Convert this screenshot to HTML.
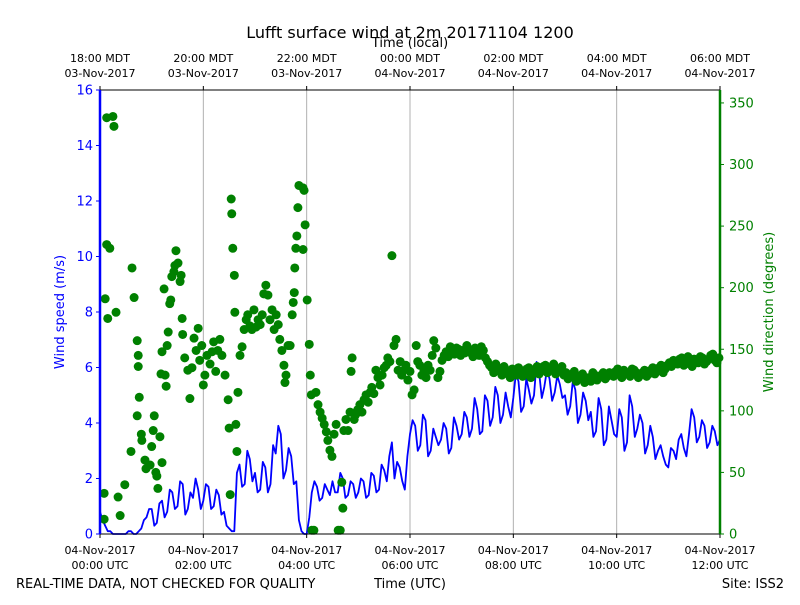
<!DOCTYPE html>
<html><head><meta charset="utf-8"><style>
body{margin:0;background:#fff;font-family:"Liberation Sans",sans-serif}
svg text{font-family:"DejaVu Sans","Liberation Sans",sans-serif}
</style></head><body>
<svg id="chart" width="800" height="600" xmlns="http://www.w3.org/2000/svg">
<text x="410" y="38" text-anchor="middle" font-size="16">Lufft surface wind at 2m 20171104 1200</text>
<text x="410" y="47" text-anchor="middle" font-size="13">Time (local)</text>
<text x="16" y="588" font-size="13">REAL-TIME DATA, NOT CHECKED FOR QUALITY</text>
<text x="410" y="588" text-anchor="middle" font-size="13">Time (UTC)</text>
<text x="784" y="588" text-anchor="end" font-size="13">Site: ISS2</text>
<text transform="translate(64,312) rotate(-90)" text-anchor="middle" font-size="13" fill="#0000ff">Wind speed (m/s)</text>
<text transform="translate(773,312) rotate(-90)" text-anchor="middle" font-size="13" fill="#008000">Wind direction (degrees)</text>
<g id="grid"></g><g id="marks"></g><g id="axes"></g>
</svg>
<script>
const speedStartHour = 0, speedStepHour = 0.05;
const speedValues = [0.8,0.5,0.3,0.1,0.1,0,0,0,0,0,0,0.1,0.1,0,0,0.1,0.2,0.5,0.6,0.9,
0.9,0.3,0.4,1.1,1.2,0.6,0.8,1.6,1.5,0.9,1.0,1.9,1.8,0.7,0.9,1.5,1.3,2.0,1.6,0.9,
1.2,1.8,1.7,0.9,1.0,1.6,1.4,0.7,0.8,0.3,0.2,0.1,0.1,2.2,2.5,1.7,1.8,3.0,2.7,1.9,
2.2,1.5,1.6,2.6,2.4,1.5,1.8,3.2,2.9,3.9,3.6,2.0,2.3,3.1,2.8,1.8,1.9,0.5,0.1,0,
0.0,0.6,1.5,1.9,1.7,1.2,1.3,1.8,1.6,1.4,1.9,1.5,1.5,2.2,2.0,1.3,1.4,1.9,1.8,1.3,
1.5,2.0,1.9,1.3,1.4,2.2,2.1,1.5,1.6,2.5,2.3,1.9,2.8,3.3,2.0,2.6,2.4,1.9,1.6,2.8,
3.6,4.1,3.9,3.0,3.2,4.3,4.1,2.8,3.0,3.8,3.5,3.2,3.4,4.0,3.8,2.9,3.1,4.2,3.9,3.4,
3.6,4.4,4.2,3.5,3.8,4.9,4.5,3.6,3.7,5.0,4.8,3.9,4.2,5.3,5.0,4.0,4.3,5.1,4.6,4.2,
4.9,5.8,5.5,4.4,4.6,5.6,5.2,4.7,5.0,6.2,5.8,4.9,5.3,5.9,5.6,4.8,5.1,5.7,5.4,4.9,
5.0,4.3,4.6,5.5,5.2,4.0,4.3,5.1,4.8,4.1,4.4,3.5,3.7,4.9,4.5,3.2,3.4,4.6,4.1,3.6,
3.5,4.5,4.2,3.0,3.3,5.0,4.6,3.5,3.8,4.3,4.0,2.9,3.2,3.9,3.5,2.7,3.0,3.2,2.8,2.5,
2.4,3.1,3.0,2.7,3.4,3.6,3.1,2.8,3.6,4.5,4.2,3.3,3.5,4.1,3.9,3.1,3.3,3.9,3.7,3.2,
3.4];
const dirHours = [0.1,0.13,0.19,0.15,0.13,0.25,0.27,0.31,0.08,0.08,0.35,0.39,0.48,0.6,0.62,0.66,0.72,0.74,0.74,0.72,0.76,0.81,0.8,0.87,0.97,1.0,1.03,1.05,0.89,1.08,1.2,1.1,1.12,1.16,1.18,1.2,1.24,1.26,1.28,1.3,1.32,1.35,1.37,1.39,1.43,1.45,1.47,1.51,1.55,1.57,1.59,1.6,1.64,1.7,1.74,1.78,1.82,1.86,1.9,1.93,1.97,2.0,2.03,2.07,2.13,2.17,2.2,2.24,2.28,2.32,2.36,2.42,2.48,2.5,2.52,2.54,2.55,2.57,2.6,2.61,2.63,2.65,2.67,2.71,2.75,2.79,2.83,2.86,2.9,2.94,2.98,3.02,3.06,3.1,3.14,3.17,3.21,3.25,3.29,3.33,3.37,3.41,3.45,3.48,3.52,3.56,3.58,3.6,3.64,3.68,3.72,3.74,3.76,3.77,3.79,3.81,3.83,3.85,3.93,3.95,3.97,3.93,4.01,4.05,4.07,4.09,4.1,4.14,4.18,4.22,4.26,4.3,4.34,4.38,4.41,4.45,4.49,4.53,4.57,4.61,4.65,4.68,4.7,4.72,4.76,4.8,4.84,4.86,4.88,4.92,4.95,4.99,5.03,5.07,5.11,5.15,5.19,5.23,5.26,5.3,5.34,5.38,5.42,5.46,5.5,5.54,5.57,5.61,5.65,5.69,5.73,5.77,5.81,5.84,5.88,5.92,5.96,6.0,6.04,6.08,6.12,6.15,6.19,6.23,6.27,6.31,6.35,6.39,6.43,6.46,6.5,6.54,6.58,6.62,6.66,
6.70,6.78,6.86,6.94,7.02,7.10,7.18,7.26,7.34,7.42,7.50,7.58,7.66,7.74,7.82,7.90,7.98,8.06,8.14,8.22,8.30,8.38,8.46,8.54,8.62,8.70,8.78,8.86,8.94,9.02,9.10,9.18,9.26,9.34,9.42,9.50,9.58,9.66,9.74,9.82,9.90,9.98,10.06,10.14,10.22,10.30,10.38,10.46,10.54,10.62,10.70,10.78,10.86,10.94,11.02,11.10,11.18,11.26,11.34,11.42,11.50,11.58,11.66,11.74,11.82,11.90,11.98,
6.74,6.82,6.90,6.98,7.06,7.14,7.22,7.30,7.38,7.46,7.54,7.62,7.70,7.78,7.86,7.94,8.02,8.10,8.18,8.26,8.34,8.42,8.50,8.58,8.66,8.74,8.82,8.90,8.98,9.06,9.14,9.22,9.30,9.38,9.46,9.54,9.62,9.70,9.78,9.86,9.94,10.02,10.10,10.18,10.26,10.34,10.42,10.50,10.58,10.66,10.74,10.82,10.90,10.98,11.06,11.14,11.22,11.30,11.38,11.46,11.54,11.62,11.70,11.78,11.86,11.94];
const dirValues = [191,235,232,175,338,339,331,180,12,33,30,15,40,67,216,192,157,145,136,96,111,76,81,60,56,71,84,96,53,50,58,47,37,79,130,148,199,129,120,153,164,187,190,209,213,218,230,220,205,210,175,162,143,133,110,135,159,149,167,141,153,121,129,145,138,148,156,132,149,158,145,129,109,86,32,272,260,232,210,180,89,67,115,145,152,166,174,178,169,166,182,168,174,170,178,195,202,194,174,182,166,178,170,158,149,137,123,129,153,153,178,188,196,216,232,242,265,283,281,279,251,231,190,154,129,113,3,3,115,105,99,94,89,83,76,68,63,81,89,3,3,42,21,84,93,84,99,132,143,93,97,101,105,99,109,113,107,115,119,114,133,127,121,129,135,137,143,140,226,153,158,133,140,129,133,137,125,132,113,117,153,140,137,129,133,127,137,133,145,157,151,127,132,141,145,
148,152,146,150,149,153,147,151,145,149,140,135,138,132,136,130,134,129,133,131,135,130,136,133,137,134,138,133,136,131,128,132,127,130,126,124,129,127,131,128,130,132,129,133,130,134,131,129,133,130,135,132,137,134,139,141,138,143,140,138,142,139,143,140,145,141,143,
144,148,151,145,147,150,144,148,152,143,137,131,135,129,133,127,131,135,128,134,127,133,130,136,131,135,130,134,129,126,130,124,128,123,127,131,125,129,126,131,128,134,127,131,128,133,127,131,128,133,130,135,131,137,136,139,142,137,144,136,140,144,138,142,146,139];
const speedTicks = [0,2,4,6,8,10,12,14,16];
const dirTicks = [0,50,100,150,200,250,300,350];
const utcTickHours = [0,2,4,6,8,10,12];
const utcTickLabels = ["00:00 UTC","02:00 UTC","04:00 UTC","06:00 UTC","08:00 UTC","10:00 UTC","12:00 UTC"];
const utcDateLabels = ["04-Nov-2017","04-Nov-2017","04-Nov-2017","04-Nov-2017","04-Nov-2017","04-Nov-2017","04-Nov-2017"];
const localTickLabels = ["18:00 MDT","20:00 MDT","22:00 MDT","00:00 MDT","02:00 MDT","04:00 MDT","06:00 MDT"];
const localDateLabels = ["03-Nov-2017","03-Nov-2017","03-Nov-2017","04-Nov-2017","04-Nov-2017","04-Nov-2017","04-Nov-2017"];

const L=100,R=720,T=90,B=534;
const xs=h=>L+(R-L)*h/12;
const ys=v=>B-(B-T)*v/16;
const yd=d=>B-(B-T)*d/360.5;
const NS="http://www.w3.org/2000/svg";
function mk(tag,attrs,parent,txt){const e=document.createElementNS(NS,tag);for(const k in attrs)e.setAttribute(k,attrs[k]);if(txt!==undefined)e.textContent=txt;parent.appendChild(e);return e;}
const grid=document.getElementById('grid'),marks=document.getElementById('marks'),axes=document.getElementById('axes');
utcTickHours.forEach((h,i)=>{
 if(h>0&&h<12){const g=mk('line',{x1:xs(h),x2:xs(h),y1:T,y2:B,stroke:'#b0b0b0','stroke-width':1},grid);
 
 }
 const t1=mk('text',{x:xs(h),y:554,'text-anchor':'middle','font-size':11},axes,utcDateLabels[i]);
 
 
 const t2=mk('text',{x:xs(h),y:569,'text-anchor':'middle','font-size':11},axes,utcTickLabels[i]);
 
 
 const t3=mk('text',{x:xs(h),y:62,'text-anchor':'middle','font-size':11},axes,localTickLabels[i]);
 
 
 const t4=mk('text',{x:xs(h),y:77,'text-anchor':'middle','font-size':11},axes,localDateLabels[i]);
 
 
 mk('line',{x1:xs(h),x2:xs(h),y1:B,y2:B+4,stroke:'#000'},axes);
 mk('line',{x1:xs(h),x2:xs(h),y1:T,y2:T-4,stroke:'#000'},axes);
});
let pts=speedValues.map((v,i)=>xs(speedStartHour+i*speedStepHour).toFixed(1)+','+ys(v).toFixed(1)).join(' ');
const line=mk('polyline',{points:pts,fill:'none',stroke:'#0000ff','stroke-width':1.8,'stroke-linejoin':'round'},marks);


dirValues.forEach((d,i)=>{
 const c=mk('circle',{cx:xs(dirHours[i]),cy:yd(d),r:4.5,fill:'#008000'},marks);
 
 
});
mk('line',{x1:L,x2:R,y1:T,y2:T,stroke:'#000'},axes);
mk('line',{x1:L,x2:R,y1:B,y2:B,stroke:'#000'},axes);
const ls=mk('line',{x1:L,x2:L,y1:T,y2:B,stroke:'#0000ff','stroke-width':2.5},axes);


const rs=mk('line',{x1:R,x2:R,y1:T,y2:B,stroke:'#008000','stroke-width':2.5},axes);


speedTicks.forEach(v=>{
 mk('line',{x1:L-4,x2:L,y1:ys(v),y2:ys(v),stroke:'#0000ff'},axes);
 const t=mk('text',{x:L-7,y:ys(v)+4.5,'text-anchor':'end','font-size':13,fill:'#0000ff'},axes,String(v));
 
 
});
dirTicks.forEach(v=>{
 mk('line',{x1:R,x2:R+4,y1:yd(v),y2:yd(v),stroke:'#008000'},axes);
 const t=mk('text',{x:R+9,y:yd(v)+4.5,'font-size':13,fill:'#008000'},axes,String(v));
 
 
});
</script>
</body></html>
